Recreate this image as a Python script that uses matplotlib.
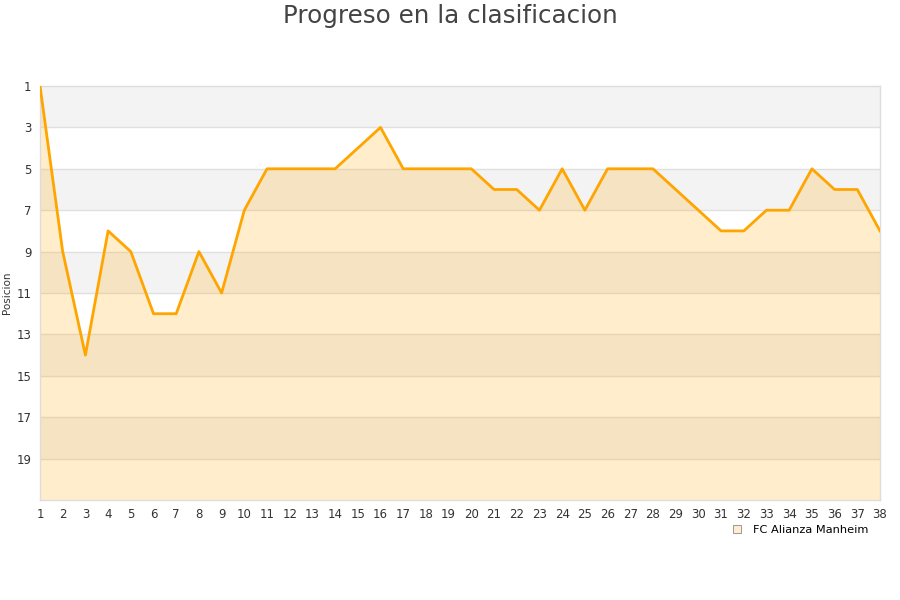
import matplotlib
matplotlib.use("Agg")
import matplotlib.pyplot as plt

rounds = list(range(1, 39))
positions = [1, 9, 14, 8, 9, 12, 12, 9, 11, 7, 5, 5, 5, 5, 4, 3, 5, 5, 5, 5,
             6, 6, 7, 5, 7, 5, 5, 5, 6, 7, 8, 8, 7, 7, 5, 6, 6, 8]
y_ticks = [1, 3, 5, 7, 9, 11, 13, 15, 17, 19]
team = "FC Alianza Manheim"
title = "Progreso en la clasificacion"
ylabel = "Posicion"

fig = plt.figure(figsize=(9, 6), dpi=100)
ax = fig.add_axes([40/900, 1-500/600, 840/900, 414/600])

# alternating bands
for lo in [1, 5, 9, 13, 17]:
    ax.axhspan(lo, lo + 2, color="#f3f3f3", zorder=0, lw=0)
for y in y_ticks[1:]:
    ax.axhline(y, color="#e0e0e0", lw=1, zorder=1)

ax.fill_between(rounds, positions, 21, color="#ffa500", alpha=0.2, lw=0, zorder=2)
ax.plot(rounds, positions, color="#ffa500", lw=2, zorder=3)

ax.set_xlim(1, 38)
ax.set_ylim(21, 1)
ax.set_xticks(rounds)
ax.set_yticks(y_ticks)
ax.tick_params(axis="both", length=0, labelsize=8.5, labelcolor="#333333", pad=6)
for s in ax.spines.values():
    s.set_color("#dddddd")
    s.set_linewidth(1)
ax.set_ylabel(ylabel, fontsize=7.5, color="#333333", labelpad=2)
ax.yaxis.set_label_coords(-28/840, 0.5)

fig.text(0.5, 1-16/600, title, ha="center", va="center", fontsize=17.7, color="#444444")

ax.plot([], [], marker="s", ls="none", markersize=6, markerfacecolor="#ffedcc",
        markeredgecolor="#999999", markeredgewidth=0.7, label=team)
leg = ax.legend(loc="upper right", bbox_to_anchor=(0.992, -0.05), frameon=False,
                fontsize=8.2, handletextpad=0.4, borderaxespad=0)

fig.savefig("out.png", dpi=100)
